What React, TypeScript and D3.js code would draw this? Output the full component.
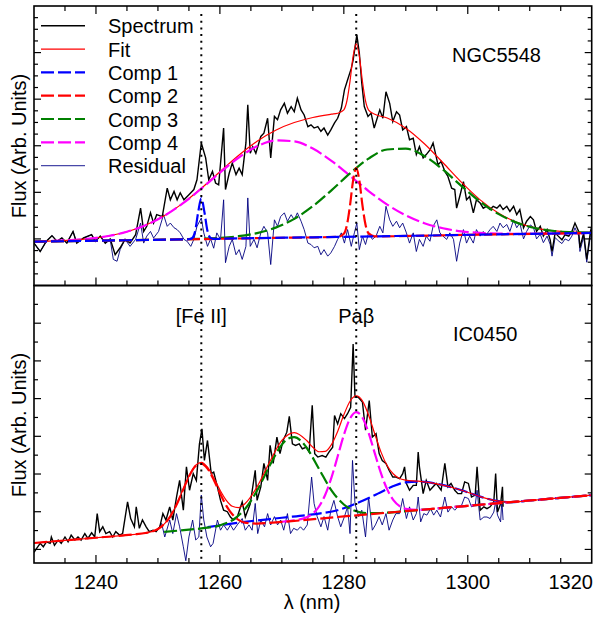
import React from 'react';
import * as d3 from 'd3';

type P = [number, number];

// ---------- NGC5548 (top panel) ----------
const ngcSpectrum: P[] = [
  [1230,-0.09],[1231,-0.27],[1232,-0.05],[1232.9,0.07],[1233.7,-0.05],[1234.5,0.02],[1235.3,-0.09],[1236.3,0.16],[1236.9,-0.09],[1238,0.02],[1239.3,0.09],[1239.9,-0.05],[1240.7,0.06],[1241.5,-0.09],[1242.3,0],[1243.1,-0.34],[1243.9,-0.19],[1244.7,-0.01],[1245.5,-0.09],[1246.4,0.09],[1247.2,0.66],[1247.7,0.16],[1248.2,0.27],[1248.8,0.56],[1249.3,0.34],[1249.8,0.52],[1250.7,0.48],[1251.5,1.09],[1252,0.84],[1252.6,1.02],[1253.1,0.84],[1253.6,0.99],[1254.2,0.84],[1255,0.95],[1255.8,1.06],[1256.3,1.27],[1257,2.06],[1257.7,1.74],[1258.2,1.27],[1258.8,1.45],[1259.3,1.2],[1259.8,1.16],[1260.6,2.38],[1260.9,1.06],[1261.5,1.41],[1262,1.63],[1262.6,1.38],[1263.1,1.52],[1263.6,1.38],[1264.2,2.06],[1264.5,2.88],[1264.9,1.84],[1265.3,1.98],[1265.8,1.84],[1266.6,2.2],[1267.1,2.27],[1267.7,2.59],[1268.2,1.74],[1268.8,2.63],[1269.3,2.56],[1269.8,2.77],[1270.4,2.91],[1270.9,2.7],[1271.5,2.84],[1272,2.73],[1272.5,3.02],[1273.1,2.77],[1273.6,2.66],[1274.2,2.41],[1274.7,2.45],[1275.2,2.38],[1275.8,2.41],[1276.3,2.31],[1276.8,2.38],[1277.4,2.23],[1277.9,2.34],[1278.5,2.49],[1279,2.59],[1279.6,2.81],[1280.1,3.2],[1280.6,3.41],[1281.2,3.66],[1281.5,3.84],[1282.1,4.38],[1282.5,3.99],[1282.9,3.34],[1283.3,2.84],[1283.9,2.63],[1284.4,2.7],[1284.9,2.38],[1285.8,2.77],[1286.3,2.59],[1286.8,3.16],[1287.4,2.91],[1287.9,2.52],[1288.5,2.73],[1289,2.66],[1289.5,2.34],[1290.1,2.41],[1290.6,2.13],[1291.2,2.16],[1291.7,1.81],[1292.2,1.98],[1292.8,1.74],[1293.3,1.81],[1293.9,1.91],[1294.4,2.06],[1295.2,1.59],[1295.7,1.66],[1296.3,1.45],[1296.8,1.34],[1297.4,1.09],[1297.9,1.06],[1298.2,0.66],[1298.7,0.91],[1299.3,1.23],[1299.8,0.84],[1300.3,0.91],[1300.9,0.56],[1301.4,0.84],[1302,0.77],[1302.5,0.66],[1303,0.7],[1303.6,0.63],[1304.1,0.7],[1304.7,0.66],[1305.2,0.73],[1305.7,0.63],[1306.3,0.7],[1306.8,0.59],[1307.4,0.7],[1307.9,0.52],[1308.4,0.63],[1309,0.24],[1309.5,0.38],[1310.1,0.48],[1310.6,0.41],[1311.1,0.16],[1311.7,0.27],[1312.2,0.06],[1312.8,0.2],[1313.3,-0.02],[1313.6,-0.27],[1314.1,0.13],[1314.6,0.06],[1315.2,-0.02],[1315.7,0.09],[1316.3,0.06],[1316.8,0.16],[1317.3,0.34],[1317.9,0.16],[1318.1,-0.19],[1318.7,0.13],[1319.2,-0.44],[1319.8,0.16],[1320.3,0.41]
];
const ngcFit: P[] = [
  [1230,-0.056],[1233,-0.044],[1236,-0.024],[1239,0.008],[1242,0.062],[1245,0.153],[1248,0.294],[1251,0.496],[1254,0.763],[1257,1.087],[1260,1.442],[1263,1.791],[1266,2.097],[1269,2.334],[1272,2.498],[1275,2.607],[1278,2.677],[1279,2.697],[1280,2.772],[1280.5,2.966],[1281,3.389],[1281.5,3.927],[1282,4.188],[1282.5,3.926],[1283,3.385],[1283.5,2.961],[1284,2.765],[1285,2.677],[1287,2.597],[1290,2.377],[1293,2.043],[1296,1.635],[1299,1.213],[1302,0.838],[1305,0.549],[1308,0.351],[1311,0.233],[1314,0.171],[1317,0.145],[1320,0.137]
];
const ngcComp1: P[] = [
  [1230,-0.06],[1245,-0.029],[1254,-0.01],[1255,-0.007],[1255.5,0.015],[1256,0.165],[1256.5,0.576],[1257,0.877],[1257.5,0.578],[1258,0.168],[1258.5,0.019],[1259,0.0],[1260,0.003],[1275,0.035],[1290,0.066],[1305,0.098],[1320,0.129]
];
const ngcComp2: P[] = [
  [1230,-0.06],[1250,-0.018],[1270,0.024],[1279,0.043],[1280,0.11],[1280.5,0.299],[1281,0.72],[1281.5,1.258],[1282,1.519],[1282.5,1.26],[1283,0.724],[1283.5,0.305],[1284,0.118],[1285,0.055],[1300,0.087],[1320,0.129]
];
const ngcComp3: P[] = [
  [1230,-0.06],[1233,-0.054],[1236,-0.047],[1239,-0.041],[1242,-0.035],[1245,-0.029],[1248,-0.022],[1251,-0.015],[1254,-0.008],[1257,0.004],[1260,0.023],[1263,0.058],[1266,0.125],[1269,0.242],[1272,0.431],[1275,0.703],[1278,1.043],[1281,1.408],[1284,1.725],[1287,1.92],[1290,1.938],[1293,1.778],[1296,1.486],[1299,1.135],[1302,0.8],[1305,0.532],[1308,0.344],[1311,0.23],[1314,0.17],[1317,0.145],[1320,0.137]
];
const ngcComp4: P[] = [
  [1230,-0.056],[1233,-0.044],[1236,-0.024],[1239,0.008],[1242,0.062],[1245,0.153],[1248,0.294],[1251,0.495],[1254,0.761],[1257,1.08],[1260,1.422],[1263,1.742],[1266,1.988],[1269,2.114],[1272,2.095],[1275,1.939],[1278,1.675],[1281,1.355],[1284,1.028],[1287,0.737],[1290,0.505],[1293,0.337],[1296,0.228],[1299,0.163],[1302,0.129],[1305,0.115],[1308,0.111],[1311,0.113],[1314,0.117],[1317,0.123],[1320,0.129]
];
const ngcResidual: P[] = [
  [1230,-0.09],[1231,-0.27],[1232,-0.05],[1232.9,0.07],[1233.7,-0.05],[1234.5,0.02],[1235.3,-0.09],[1236.3,0.16],[1236.9,-0.09],[1238,0.02],[1239.3,0.09],[1239.9,-0.05],[1240.7,0.06],[1241.5,-0.09],[1242.3,-0.02],[1242.8,-0.44],[1243.4,-0.48],[1243.9,-0.23],[1244.7,-0.01],[1245.5,-0.16],[1246.4,-0.01],[1247.2,0.34],[1247.7,-0.09],[1248.2,0.06],[1248.8,0.16],[1249.3,0.02],[1250.1,0.16],[1250.9,0.52],[1251.5,0.27],[1252,0.34],[1252.6,0.24],[1253.1,0.2],[1253.6,0.13],[1254.2,-0.01],[1254.7,-0.05],[1255.3,-0.16],[1255.8,-0.01],[1256.3,0.27],[1257,0.45],[1257.4,0.13],[1258,-0.16],[1258.5,0.0],[1259,-0.2],[1259.5,0.13],[1260.1,-0.01],[1260.6,0.84],[1260.9,-0.51],[1261.5,-0.16],[1262,-0.01],[1262.6,-0.34],[1263.1,-0.23],[1263.6,-0.44],[1264.2,-0.16],[1264.5,0.88],[1264.9,-0.16],[1265.5,-0.01],[1266,-0.19],[1266.6,0.13],[1267.1,0.27],[1267.7,0.13],[1268.2,-0.55],[1268.8,0.41],[1269.3,0.27],[1269.8,0.48],[1270.4,0.56],[1270.9,0.38],[1271.5,0.52],[1272,0.41],[1272.5,0.56],[1273.1,0.38],[1273.6,0.2],[1274.2,-0.09],[1274.7,-0.12],[1275.2,-0.19],[1275.8,-0.16],[1276.3,-0.34],[1276.8,-0.23],[1277.4,-0.37],[1277.9,-0.3],[1278.5,-0.16],[1279,-0.01],[1279.6,0.13],[1280.1,-0.09],[1280.6,0.2],[1281.2,-0.16],[1281.7,0.13],[1282.1,0.34],[1282.5,-0.23],[1283,0.06],[1283.5,-0.12],[1284,0.13],[1284.6,-0.01],[1285.2,0.06],[1285.8,0.27],[1286.3,0.13],[1286.8,0.7],[1287.4,0.41],[1287.9,0.27],[1288.5,0.38],[1289,0.24],[1289.5,0.34],[1290.1,0.13],[1290.6,-0.09],[1291.2,0.13],[1291.7,-0.27],[1292.2,-0.01],[1292.8,-0.16],[1293.3,0.06],[1293.9,-0.05],[1294.4,0.27],[1295,0.41],[1295.5,0.13],[1296,0.06],[1296.6,-0.01],[1297.1,0.13],[1297.7,-0.01],[1298.2,-0.48],[1298.7,-0.09],[1299.3,0.2],[1299.8,-0.09],[1300.3,0.06],[1300.9,-0.09],[1301.4,0.2],[1302,0.06],[1302.5,0.16],[1303,0.09],[1303.6,0.2],[1304.1,0.27],[1304.7,0.16],[1305.2,0.34],[1305.7,0.24],[1306.3,0.31],[1306.8,0.16],[1307.4,0.41],[1307.9,0.24],[1308.4,0.34],[1309,0.0],[1309.5,0.16],[1310.1,0.3],[1310.6,0.25],[1311.1,0.0],[1311.7,0.1],[1312.2,-0.08],[1312.8,0.06],[1313.3,-0.12],[1313.6,-0.37],[1314.1,0.03],[1314.6,-0.04],[1315.2,-0.1],[1315.7,0.0],[1316.3,-0.04],[1316.8,0.06],[1317.3,0.24],[1317.9,0.06],[1318.1,-0.27],[1318.7,0.05],[1319.2,-0.5],[1319.8,0.08],[1320.3,0.3]
];

// ---------- IC0450 (bottom panel) ----------
const icSpectrum: P[] = [
  [1230,-0.08],[1230.4,0.02],[1231,0.16],[1231.5,0.07],[1232,0.2],[1232.6,0.16],[1232.8,0.33],[1233.3,0.11],[1233.9,0.25],[1234.4,0.16],[1235,0.33],[1235.5,0.2],[1236,0.38],[1236.6,0.25],[1237.1,0.33],[1237.6,0.25],[1238.2,0.42],[1238.7,0.29],[1239.3,0.44],[1239.8,0.33],[1240.2,0.95],[1240.6,0.47],[1241.1,0.6],[1241.6,0.42],[1242.2,0.47],[1242.7,0.33],[1243.2,0.47],[1243.8,0.38],[1244.3,0.42],[1245.1,1.26],[1245.6,0.82],[1246.2,0.6],[1246.5,1.13],[1247,0.56],[1247.5,0.78],[1248.1,0.6],[1248.6,0.47],[1249.2,0.51],[1249.7,0.47],[1250.3,0.6],[1250.8,0.95],[1251.3,0.78],[1251.9,1.13],[1252.4,0.78],[1253,1.39],[1253.5,1.83],[1254.1,1.04],[1254.6,2.19],[1255.1,1.57],[1255.7,2.01],[1256.2,1.83],[1256.7,2.8],[1257.1,3.2],[1257.5,2.36],[1258,2.89],[1258.6,2.01],[1259,2.05],[1259.6,1.66],[1260.1,1.3],[1260.6,1.04],[1261.2,1.0],[1261.7,0.86],[1262.2,0.78],[1262.8,0.86],[1263.6,1.26],[1264.1,0.86],[1264.9,1.21],[1265.7,2.1],[1266,1.3],[1266.6,1.66],[1267.1,2.28],[1267.7,1.83],[1268.1,2.76],[1268.6,2.28],[1269.2,2.98],[1269.7,2.54],[1270.2,2.89],[1270.8,3.11],[1271.2,3.53],[1271.7,2.8],[1272.2,2.76],[1272.8,2.8],[1273.3,2.67],[1273.9,2.71],[1274.4,2.58],[1274.9,3.82],[1275.3,2.54],[1275.8,2.45],[1276.5,2.49],[1277.1,2.45],[1277.6,2.58],[1278.2,2.71],[1278.5,3.55],[1279,3.33],[1279.5,3.6],[1280.1,3.47],[1280.6,3.6],[1281.1,3.77],[1281.5,5.45],[1281.8,4.04],[1282.3,4.04],[1283,3.91],[1283.5,3.16],[1284.1,3.95],[1284.6,2.98],[1285.2,3.07],[1285.7,2.54],[1286.2,2.36],[1286.8,2.28],[1287.3,2.1],[1287.9,1.92],[1288.4,1.92],[1289,1.88],[1289.5,2.01],[1289.8,2.19],[1290.1,1.75],[1290.6,1.57],[1291.2,1.7],[1291.7,1.7],[1292,2.58],[1292.2,2.19],[1292.8,1.48],[1293.3,1.83],[1293.9,1.57],[1294.4,1.66],[1294.9,1.75],[1295.7,1.57],[1296.3,2.28],[1296.8,1.66],[1297.3,1.75],[1297.9,1.57],[1298.4,1.48],[1299,1.48],[1299.5,1.79],[1300.1,1.75],[1300.6,1.39],[1301.2,1.44],[1301.5,2.19],[1302,1.04],[1302.6,1.13],[1303.1,1.08],[1303.6,1.13],[1304.2,1.26],[1304.5,2.01],[1304.8,0.99],[1305.3,1.21],[1305.6,1.66],[1305.7,1.13]
];
const icFit: P[] = [
  [1230,0.17],[1235,0.24],[1240,0.31],[1245,0.38],[1248,0.436],[1249,0.474],[1250,0.543],[1251,0.669],[1252,0.878],[1253,1.184],[1254,1.57],[1255,1.94],[1256,2.22],[1257,2.31],[1258,2.18],[1259,1.9],[1260,1.58],[1261,1.31],[1262,1.145],[1263,1.11],[1264,1.206],[1266,1.66],[1268,2.31],[1270,2.89],[1272,3.1],[1274,2.89],[1275,2.71],[1276,2.59],[1277,2.6],[1278,2.78],[1279,3.13],[1280,3.57],[1281,3.93],[1282,4.07],[1283,3.94],[1284,3.56],[1285,3.06],[1286,2.58],[1287,2.22],[1288,2.0],[1289,1.88],[1290,1.84],[1292,1.81],[1295,1.74],[1299,1.57],[1302,1.4],[1305,1.28],[1307,1.256],[1310,1.298],[1315,1.369],[1320,1.439]
];
const icComp1: P[] = [
  [1258,0.59],[1264,0.73],[1270,0.84],[1275,0.93],[1279,1.04],[1282,1.22],[1285.5,1.48],[1288,1.68],[1290,1.78],[1292,1.8],[1295,1.74],[1299,1.57],[1302,1.4],[1305,1.28],[1307,1.256],[1310,1.298],[1320,1.439]
];
const icComp2: P[] = [
  [1230,0.17],[1240,0.31],[1246,0.395],[1248,0.436],[1249,0.474],[1250,0.543],[1251,0.669],[1252,0.878],[1253,1.184],[1254,1.558],[1255,1.931],[1256,2.198],[1257,2.278],[1258,2.143],[1259,1.85],[1260,1.494],[1261,1.169],[1262,0.931],[1263,0.784],[1264,0.713],[1266,0.685],[1268,0.705],[1280,0.875],[1300,1.157],[1320,1.439]
];
const icComp3: P[] = [
  [1251,0.466],[1255,0.524],[1258,0.576],[1260,0.639],[1262,0.775],[1264,1.062],[1266,1.561],[1268,2.211],[1270,2.779],[1271,2.938],[1272,2.976],[1273,2.892],[1274,2.701],[1276,2.133],[1278,1.567],[1280,1.191],[1282,1.013],[1284,0.961],[1286,0.966],[1290,1.015],[1300,1.157],[1310,1.298],[1320,1.439]
];
const icComp4: P[] = [
  [1270,0.734],[1272,0.769],[1274,0.851],[1275,0.952],[1276,1.139],[1277,1.451],[1278,1.903],[1279,2.464],[1280,3.034],[1281,3.47],[1282,3.643],[1283,3.498],[1284,3.09],[1285,2.548],[1286,2.016],[1287,1.592],[1288,1.308],[1289,1.149],[1290,1.076],[1292,1.05],[1295,1.087],[1300,1.157],[1310,1.298],[1320,1.439]
];
const icResidual: P[] = [
  [1249.7,0.47],[1250.6,0.69],[1251.1,0.33],[1251.9,0.78],[1252.4,0.42],[1253,0.95],[1253.5,0.6],[1254.1,0.07],[1254.5,-0.3],[1255,0.33],[1255.6,0.78],[1256.1,0.25],[1256.6,0.33],[1257,1.44],[1257.4,0.78],[1257.9,0.33],[1258.5,0.07],[1258.9,0.16],[1259.6,0.78],[1260.1,0.51],[1260.6,0.65],[1261.2,0.51],[1261.7,0.65],[1262.2,0.51],[1262.8,0.65],[1263.6,0.82],[1264.1,0.51],[1264.7,0.65],[1265.2,0.51],[1265.7,1.22],[1266.1,0.42],[1266.6,0.78],[1267.2,0.6],[1267.7,0.95],[1268.2,0.65],[1268.8,0.87],[1269.3,0.65],[1269.8,0.78],[1270.3,0.51],[1270.9,0.95],[1271.4,0.42],[1271.9,0.56],[1272.5,0.51],[1273,0.6],[1273.5,0.51],[1274.1,0.65],[1274.8,1.92],[1275.2,1.22],[1275.7,0.87],[1276.3,0.6],[1276.8,0.87],[1277.4,0.51],[1277.9,1.04],[1278.4,1.3],[1279,0.87],[1279.5,0.6],[1280.1,0.87],[1280.6,1.13],[1281,0.42],[1281.4,2.36],[1281.8,1.22],[1282.4,0.87],[1282.9,1.04],[1283.5,0.33],[1284,1.39],[1284.6,0.51],[1285.1,0.65],[1285.7,0.87],[1286.2,0.65],[1286.8,0.95],[1287.3,0.51],[1287.9,0.78],[1288.4,0.95],[1289,0.95],[1289.5,1.35],[1290.1,0.82],[1290.6,1.13],[1291.2,0.78],[1291.7,0.95],[1292,1.39],[1292.4,0.73],[1292.9,0.95],[1293.4,0.91],[1294,1.08],[1294.5,0.91],[1295,1.04],[1295.6,0.86],[1296.3,1.39],[1296.8,0.99],[1297.4,1.13],[1297.9,1.04],[1298.4,1.13],[1299,1.17],[1299.5,1.39],[1300.1,1.35],[1300.6,1.13],[1301.2,1.17],[1301.5,1.57],[1302,0.78],[1302.6,0.86],[1303.1,0.86],[1303.6,0.82],[1304.2,0.99],[1304.5,1.26],[1304.8,0.91],[1305.3,0.73],[1305.5,1.3],[1305.7,0.78]
];

// ---------- axes / labels ----------
const xDomain: P = [1230, 1320];
const xTickLabels = [1240, 1260, 1280, 1300, 1320];
const xMinorStep = 5;
const topDomain: P = [-1, 5];
const botDomain: P = [-0.36, 7];
const lineMarkers = [
  { wl: 1257, label: '[Fe II]' },
  { wl: 1282, label: 'Paβ' },
];
const legendItems = [
  { name: 'Spectrum', color: '#000000', width: 1.6, dash: '' },
  { name: 'Fit', color: '#ff0000', width: 1.2, dash: '' },
  { name: 'Comp 1', color: '#0000ff', width: 2.2, dash: '13,4' },
  { name: 'Comp 2', color: '#ff0000', width: 2.2, dash: '13,4' },
  { name: 'Comp 3', color: '#008000', width: 2.2, dash: '13,4' },
  { name: 'Comp 4', color: '#ff00ff', width: 2.2, dash: '13,4' },
  { name: 'Residual', color: '#4848a8', width: 1.1, dash: '' },
];

const FONT = '"Liberation Sans", Arial, Helvetica, sans-serif';
const L = 34, R = 591.7;
const TOP0 = 6, MID = 285.5, BOT = 563;

export default function App() {
  const x = d3.scaleLinear().domain(xDomain).range([L, R]);
  const yT = d3.scaleLinear().domain(topDomain).range([MID, TOP0]);
  const yB = d3.scaleLinear().domain(botDomain).range([BOT, MID]);

  const mk = (y: d3.ScaleLinear<number, number>, smooth: boolean) =>
    d3.line<P>().x(d => x(d[0])).y(d => y(d[1])).curve(smooth ? d3.curveMonotoneX : d3.curveLinear);
  const tS = mk(yT, true), tL = mk(yT, false), bS = mk(yB, true), bL = mk(yB, false);

  const dash = '13,4';
  const xMinor = d3.range(xDomain[0] + xMinorStep, xDomain[1], xMinorStep);
  const topMinor = d3.range(-0.75, 5, 0.25);
  const botMinor = d3.range(0, 7, 0.5);

  const yTicks = (y: d3.ScaleLinear<number, number>, vals: number[], majorEvery: number, key: string) =>
    vals.map((v, i) => {
      const isMajor = Math.abs(v / majorEvery - Math.round(v / majorEvery)) < 1e-6;
      const len = isMajor ? 7 : 4;
      return (
        <g key={key + i}>
          <line x1={L} x2={L + len} y1={y(v)} y2={y(v)} stroke="#000" strokeWidth={1.2} />
          <line x1={R} x2={R - len} y1={y(v)} y2={y(v)} stroke="#000" strokeWidth={1.2} />
        </g>
      );
    });

  const xTicks = (yEdge: number, dir: number, key: string) =>
    xMinor.map((v, i) => {
      const isMajor = v % 20 === 0;
      const len = isMajor ? 8 : 5;
      return <line key={key + i} x1={x(v)} x2={x(v)} y1={yEdge} y2={yEdge + dir * len} stroke="#000" strokeWidth={1.2} />;
    });

  return (
    <svg width={601} height={623} style={{ position: 'absolute', left: 0, top: 0, background: '#fff' }} fontFamily={FONT}>
      <defs>
        <clipPath id="clipTop"><rect x={L} y={TOP0} width={R - L} height={MID - TOP0} /></clipPath>
        <clipPath id="clipBot"><rect x={L} y={MID} width={R - L} height={BOT - MID} /></clipPath>
      </defs>
      <rect x={0} y={0} width={601} height={623} fill="#fff" />

      {/* top panel */}
      <g clipPath="url(#clipTop)" fill="none">
        <path d={tL(ngcResidual) || ''} stroke="#000080" strokeWidth={0.9} />
        <path d={tL(ngcSpectrum) || ''} stroke="#000" strokeWidth={1.4} />
        <path d={tS(ngcFit) || ''} stroke="#ff0000" strokeWidth={1.2} />
        <path d={tS(ngcComp4) || ''} stroke="#ff00ff" strokeWidth={2.2} strokeDasharray={dash} />
        <path d={tS(ngcComp3) || ''} stroke="#008000" strokeWidth={2.2} strokeDasharray={dash} />
        <path d={tS(ngcComp2) || ''} stroke="#ff0000" strokeWidth={2.2} strokeDasharray={dash} />
        <path d={tS(ngcComp1) || ''} stroke="#0000ff" strokeWidth={2.2} strokeDasharray={dash} />
      </g>

      {/* bottom panel */}
      <g clipPath="url(#clipBot)" fill="none">
        <path d={bL(icResidual) || ''} stroke="#000080" strokeWidth={0.9} />
        <path d={bL(icSpectrum) || ''} stroke="#000" strokeWidth={1.4} />
        <path d={bS(icComp1) || ''} stroke="#0000ff" strokeWidth={2.2} strokeDasharray={dash} />
        <path d={bS(icComp3) || ''} stroke="#008000" strokeWidth={2.2} strokeDasharray={dash} />
        <path d={bS(icComp4) || ''} stroke="#ff00ff" strokeWidth={2.2} strokeDasharray={dash} />
        <path d={bS(icFit) || ''} stroke="#ff0000" strokeWidth={1.2} />
        <path d={bS(icComp2) || ''} stroke="#ff0000" strokeWidth={2.2} strokeDasharray={dash} />
      </g>

      {/* dotted line markers */}
      {lineMarkers.map(m => (
        <line key={m.label} x1={x(m.wl)} x2={x(m.wl)} y1={TOP0 + 8} y2={BOT} stroke="#000" strokeWidth={2} strokeDasharray="2,4.7" />
      ))}
      {lineMarkers.map(m => (
        <text key={'t' + m.label} x={x(m.wl)} y={323} fontSize={20} textAnchor="middle" fill="#000">{m.label}</text>
      ))}

      {/* frames */}
      <rect x={L} y={TOP0} width={R - L} height={MID - TOP0} fill="none" stroke="#000" strokeWidth={1.6} />
      <rect x={L} y={MID} width={R - L} height={BOT - MID} fill="none" stroke="#000" strokeWidth={1.6} />

      {/* ticks */}
      {yTicks(yT, topMinor, 1, 'tt')}
      {yTicks(yB, botMinor, 1, 'bt')}
      {xTicks(TOP0, 1, 'xt0')}
      {xTicks(MID, -1, 'xt1')}
      {xTicks(BOT, -1, 'xt2')}

      {/* x tick labels */}
      {xTickLabels.map((v, i) => (
        <text key={'xl' + v} x={i === xTickLabels.length - 1 ? 593 : x(v)} y={589} fontSize={20}
          textAnchor={i === xTickLabels.length - 1 ? 'end' : 'middle'} fill="#000">{v}</text>
      ))}
      <text x={312} y={609} fontSize={20} textAnchor="middle" fill="#000">λ (nm)</text>

      {/* y labels */}
      <text transform={`translate(26,146) rotate(-90)`} fontSize={20} textAnchor="middle" fill="#000">Flux (Arb. Units)</text>
      <text transform={`translate(26,425) rotate(-90)`} fontSize={20} textAnchor="middle" fill="#000">Flux (Arb. Units)</text>

      {/* panel names */}
      <text x={452} y={62} fontSize={20} fill="#000">NGC5548</text>
      <text x={453} y={341} fontSize={20} fill="#000">IC0450</text>

      {/* legend */}
      {legendItems.map((it, i) => {
        const yb = 33.3 + i * 23.3;
        return (
          <g key={it.name}>
            <line x1={41} x2={85} y1={yb - 7.5} y2={yb - 7.5} stroke={it.color} strokeWidth={it.width}
              strokeDasharray={it.dash || undefined} />
            <text x={108} y={yb} fontSize={20} fill="#000">{it.name}</text>
          </g>
        );
      })}
    </svg>
  );
}
